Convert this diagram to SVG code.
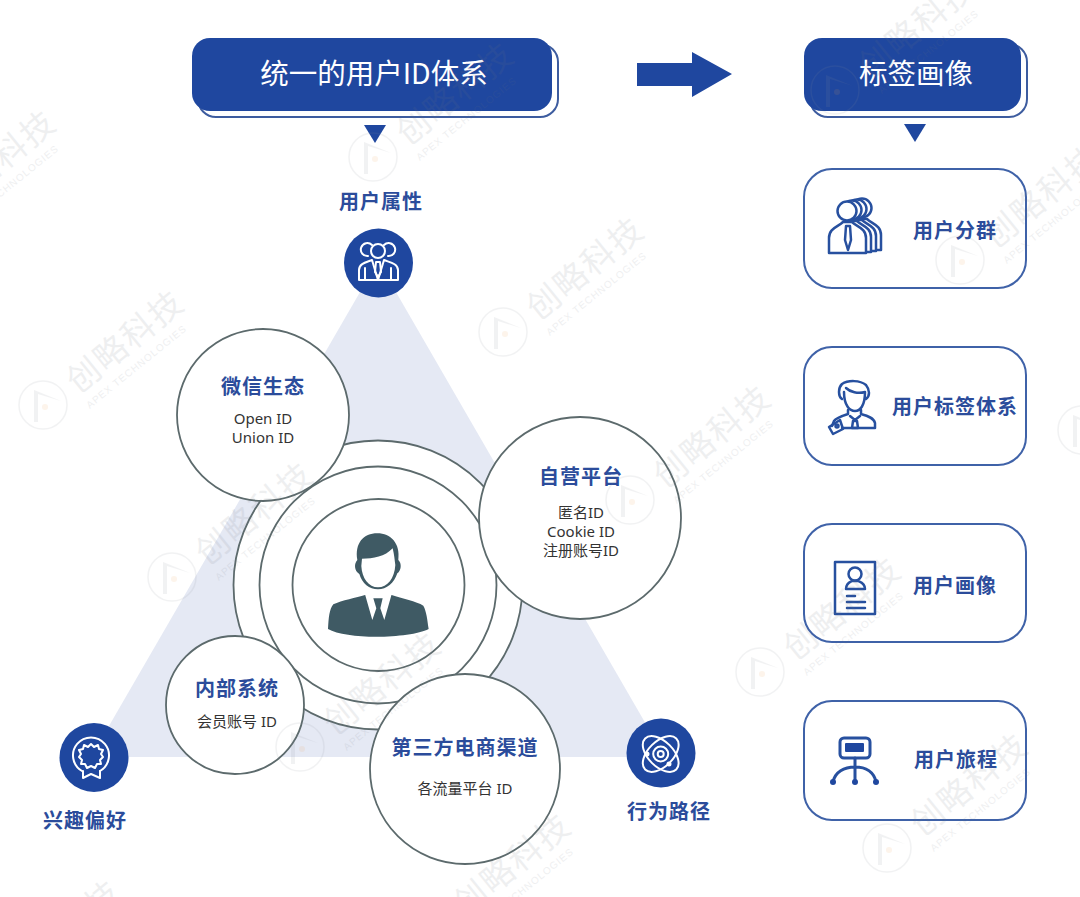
<svg xmlns="http://www.w3.org/2000/svg" xmlns:xlink="http://www.w3.org/1999/xlink" width="1080" height="897" viewBox="0 0 1080 897">
<style>
text{font-family:"Noto Sans","Noto Sans CJK SC",sans-serif;text-anchor:middle}
.h{font-family:"Noto Sans CJK SC",sans-serif;font-size:28.500px;fill:#fff;font-weight:400}
.l{font-family:"Noto Sans CJK SC",sans-serif;font-size:20px;font-weight:700;fill:#2b4c9b;letter-spacing:1px}
.s{font-family:"Noto Sans","Noto Sans CJK SC",sans-serif;font-size:15px;fill:#333}
.c{fill:#fff;stroke:#5c6a6c;stroke-width:1.800}
.card{fill:#fff;stroke:#3f62a8;stroke-width:2}
.btn{fill:#1f479f}.out{fill:#fff;stroke:#3d5c9f;stroke-width:2}
.dot{fill:#1f479f}
.iw{fill:none;stroke:#fff;stroke-width:2;stroke-linejoin:round;stroke-linecap:round}
.ib{fill:none;stroke:#27509f;stroke-width:2.500;stroke-linejoin:round;stroke-linecap:round}
</style>
<defs>
<g id="wm" opacity="0.11">
<circle cx="0" cy="0" r="24" fill="none" stroke="#8a8f98" stroke-width="1.500"/>
<path d="M-9 17V-15L18 -4L-5 -11V17Z" fill="#8a8f98"/>
<circle cx="2" cy="2" r="3" fill="#f0a050"/>
<text transform="translate(82,-64) rotate(-39)" font-size="33" style='font-family:"Noto Sans CJK SC",sans-serif' fill="#70757f" y="12" letter-spacing="2">创略科技</text>
<text transform="translate(88,-45) rotate(-39)" font-size="10" style='font-family:"Liberation Sans",sans-serif' fill="#70757f" y="12" letter-spacing="1">APEX TECHNOLOGIES</text>
</g>
<g id="p"><circle cx="847" cy="211" r="9.500"/><path d="M829 253V238C829 228 838 227 843 222H852C857 227 866 228 866 238V253Z"/></g>
</defs>
<rect width="1080" height="897" fill="#fff"/>
<polygon id="triangle" points="378,261 665,757 91,757" fill="#e5e9f4"/>

<g id="connectors">
<polygon class="dot" points="637,63 692,63 692,52 732,74 692,97 692,86 637,86"/>
<polygon class="dot" points="364,125 386,125 375,143"/>
<polygon class="dot" points="904,124 926,124 915,142"/>
</g>

<g id="header-left">
<rect class="out" x="198" y="44" width="360" height="73" rx="18"/>
<rect class="btn" x="192" y="38" width="360" height="73" rx="18"/>
<text class="h" x="374" y="84">统一的用户ID体系</text>
</g>
<g id="header-right">
<rect class="out" x="810" y="44" width="217" height="73" rx="18"/>
<rect class="btn" x="804" y="38" width="217" height="73" rx="18"/>
<text class="h" x="916" y="84">标签画像</text>
</g>

<g id="core">
<circle class="c" cx="378" cy="585" r="144.500"/>
<circle class="c" cx="378" cy="585" r="118.500"/>
<circle class="c" cx="378.500" cy="585" r="86"/>
<g transform="translate(270,480) scale(.3333)">
<path fill="#3f5a64" d="M174 447C176 412 178 388 190 373C215 361 260 353 285 345H365C395 355 440 364 460 377C470 395 472 420 476 447C420 476 230 480 174 447Z"/>
<path fill="#fff" d="M285 343H365L343 420L331 385L338 355H310L319 385L307 420Z"/>
<path fill="#3f5a64" d="M262 240C254 190 280 160 322 160C362 160 392 190 385 240C396 250 394 272 382 280C372 310 350 328 324 328C298 328 276 310 268 282C252 272 252 250 262 240Z"/>
<path fill="#fff" d="M276 236C310 236 345 230 368 205C373 225 374 240 376 255C374 295 352 322 324 322C296 322 276 295 274 258Z"/>
</g>
</g>

<g id="node-wechat">
<circle class="c" cx="263" cy="415" r="86"/>
<text class="l" x="263" y="394">微信生态</text>
<text class="s" x="263" y="424">Open ID</text>
<text class="s" x="263" y="443">Union ID</text>
</g>
<g id="node-self">
<circle class="c" cx="580" cy="518" r="101"/>
<text class="l" x="581" y="484">自营平台</text>
<text class="s" x="581" y="518">匿名ID</text>
<text class="s" x="581" y="537">Cookie ID</text>
<text class="s" x="581" y="556">注册账号ID</text>
</g>
<g id="node-internal">
<circle class="c" cx="235" cy="705" r="69"/>
<text class="l" x="237" y="696">内部系统</text>
<text class="s" x="237" y="727">会员账号 ID</text>
</g>
<g id="node-third">
<circle class="c" cx="465" cy="769" r="95"/>
<text class="l" x="465" y="755">第三方电商渠道</text>
<text class="s" x="465" y="794">各流量平台 ID</text>
</g>

<g id="attr-user">
<text class="l" x="381" y="209">用户属性</text>
<circle class="dot" cx="378.500" cy="263" r="34.500"/>
<g class="iw">
<circle cx="378" cy="251" r="7"/>
<path d="M372 245A6.500 6.500 0 1 0 368 256M384 245A6.500 6.500 0 1 1 388 256"/>
<path d="M359 280V270C359 263 368 262 372 260L378 280L384 260C388 262 398 263 398 270V280Z"/>
<path d="M365 280V268M391 280V268M376 262H380L381 272L378 277L375 272Z"/>
</g>
</g>
<g id="attr-interest">
<circle class="dot" cx="94" cy="757.500" r="34.500"/>
<g class="iw">
<path d="M82 771A18 18 0 1 1 100 771"/>
<path d="M91 744L94 747L98 745L99 749L103 750L101 754L103 757L100 760L101 764L97 764L95 768L91 766L87 768L85 764L81 764L82 760L79 757L81 754L79 750L83 749L84 745L88 747Z"/>
<path d="M83 771V778L91 774L100 778V771"/>
</g>
<text class="l" x="85" y="828">兴趣偏好</text>
</g>
<g id="attr-behavior">
<circle class="dot" cx="661" cy="753" r="34.500"/>
<g class="iw">
<circle cx="660.700" cy="754" r="3"/>
<circle cx="660.700" cy="754" r="7.500"/>
<ellipse cx="660.700" cy="754" rx="22" ry="12.500" transform="rotate(45 660.700 754)"/>
<ellipse cx="660.700" cy="754" rx="22" ry="12.500" transform="rotate(-45 660.700 754)"/>
<circle cx="647" cy="754" r="1.500" fill="#fff"/>
<circle cx="669" cy="764" r="1.500" fill="#fff"/>
</g>
<text class="l" x="669" y="819">行为路径</text>
</g>

<g id="card-group">
<rect class="card" x="804" y="169" width="222" height="119" rx="28"/>
<g class="ib" style="fill:#fff">
<use xlink:href="#p" href="#p" x="15" y="-3"/>
<use xlink:href="#p" href="#p" x="10" y="-2"/>
<use xlink:href="#p" href="#p" x="5" y="-1"/>
<use xlink:href="#p" href="#p"/>
<path d="M846 226H850L851 240L848 250L845 240Z"/>
</g>
<text class="l" x="955" y="238">用户分群</text>
</g>
<g id="card-tags">
<rect class="card" x="804" y="347" width="222" height="118" rx="28"/>
<g class="ib">
<path d="M842 399C838 396 838 388 842 384C848 380 860 380 866 385C870 390 870 396 866 399"/>
<path d="M844 392C844 406 850 411 855 411C860 411 865 406 865 392C858 394 850 392 846 388"/>
<path d="M848 410V414C842 416 836 418 834 421L832 426M861 410V414C868 416 874 418 875 423V428H842"/>
<path d="M850 416L855 420L860 416M853 421H857L858 428H852Z"/>
<path d="M840 420L829 427L833 434L843 429Z"/>
<circle cx="837" cy="426" r="1.500"/>
</g>
<text class="l" x="955" y="414">用户标签体系</text>
</g>
<g id="card-portrait">
<rect class="card" x="804" y="524" width="222" height="118" rx="28"/>
<g class="ib">
<rect x="835" y="562" width="40" height="52"/>
<circle cx="855" cy="574" r="6.500"/>
<path d="M846 589C846 583 850 582 852 581H858C860 582 865 583 865 589Z"/>
<path d="M847 596H855M847 602H865M847 608H865"/>
</g>
<text class="l" x="955" y="593">用户画像</text>
</g>
<g id="card-journey">
<rect class="card" x="804" y="701" width="222" height="119" rx="28"/>
<g class="ib" style="stroke-width:3">
<rect x="840" y="738" width="30" height="20" rx="4"/>
<path d="M855 758V782M833 782C835 772 844 767 855 767C866 767 874 772 876 782"/>
</g>
<rect class="dot" x="845" y="743" width="19" height="9" rx="1"/>
<circle class="dot" cx="833" cy="782" r="3"/>
<circle class="dot" cx="855" cy="782" r="3"/>
<circle class="dot" cx="876" cy="782" r="3"/>
<text class="l" x="956" y="767">用户旅程</text>
</g>

<g id="watermarks">
<use xlink:href="#wm" href="#wm" x="43" y="405"/>
<use xlink:href="#wm" href="#wm" x="373" y="157"/>
<use xlink:href="#wm" href="#wm" x="503" y="332"/>
<use xlink:href="#wm" href="#wm" x="630" y="500"/>
<use xlink:href="#wm" href="#wm" x="172" y="577"/>
<use xlink:href="#wm" href="#wm" x="760" y="672"/>
<use xlink:href="#wm" href="#wm" x="887" y="848"/>
<use xlink:href="#wm" href="#wm" x="300" y="747"/>
<use xlink:href="#wm" href="#wm" x="960" y="260"/>
<use xlink:href="#wm" href="#wm" x="-85" y="225"/>
<use xlink:href="#wm" href="#wm" x="1082" y="430"/>
<use xlink:href="#wm" href="#wm" x="430" y="928"/>
<use xlink:href="#wm" href="#wm" x="835" y="90"/>
<use xlink:href="#wm" href="#wm" x="-20" y="995"/>
</g>
</svg>
